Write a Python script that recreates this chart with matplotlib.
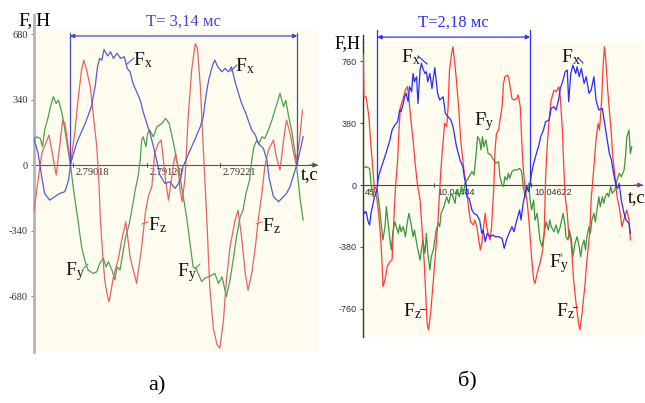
import matplotlib
matplotlib.use('Agg')
import matplotlib.pyplot as plt
from matplotlib.lines import Line2D
from matplotlib.transforms import offset_copy

plt.rcParams['font.family'] = ['Liberation Serif', 'DejaVu Serif']
plt.rcParams['mathtext.fontset'] = 'custom'
plt.rcParams['mathtext.rm'] = 'Liberation Serif'
plt.rcParams['mathtext.it'] = 'Liberation Serif:italic'

# ---------------- data: panel a (time in ms from start of period T) ----------------
t_fx_a = [-0.50, -0.44, -0.39, -0.35, -0.28, -0.21, -0.14, -0.07, -0.02, 0.01,
          0.05, 0.09, 0.14, 0.21, 0.27, 0.30, 0.35, 0.38, 0.41, 0.44,
          0.47, 0.52, 0.56, 0.60, 0.65, 0.70, 0.75, 0.79, 0.83, 0.87,
          0.92, 0.97, 1.01, 1.06, 1.10, 1.15, 1.20, 1.24, 1.31, 1.38,
          1.45, 1.50, 1.53, 1.56, 1.59, 1.63, 1.68, 1.73, 1.80, 1.84,
          1.86, 1.89, 1.92, 1.97, 2.00, 2.04, 2.10, 2.14, 2.19, 2.23,
          2.28, 2.32, 2.37, 2.42, 2.46, 2.51, 2.56, 2.60, 2.67, 2.72,
          2.75, 2.81, 2.88, 2.95, 2.99, 3.04, 3.08, 3.13, 3.18, 3.22]
fx_a = [139, 61, -61, -147, -182, -164, -147, -138, -78, 9,
        61, 112, 156, 216, 277, 311, 415, 510, 554, 545,
        600, 566, 588, 554, 580, 554, 562, 502, 484, 424,
        381, 337, 277, 216, 173, 100, 20, -50, -95, -87,
        -121, -95, -69, -9, 17, 52, 95, 138, 199, 251,
        311, 389, 450, 519, 545, 510, 484, 502, 484, 510,
        432, 381, 320, 277, 234, 182, 156, 112, 87, 26,
        -69, -164, -190, -164, -147, -112, -61, 0, 78, 147]

t_fz_a = [-0.50, -0.44, -0.39, -0.29, -0.19, -0.10, -0.07, 0.01, 0.07, 0.11,
          0.16, 0.19, 0.23, 0.28, 0.32, 0.37, 0.40, 0.42, 0.45, 0.48,
          0.52, 0.54, 0.60, 0.67, 0.71, 0.77, 0.83, 0.92, 0.99, 1.04,
          1.08, 1.13, 1.17, 1.22, 1.26, 1.29, 1.32, 1.36, 1.40, 1.43,
          1.46, 1.49, 1.52, 1.55, 1.59, 1.63, 1.68, 1.73, 1.76, 1.80,
          1.84, 1.89, 1.93, 1.98, 2.03, 2.07, 2.12, 2.16, 2.21, 2.28,
          2.32, 2.37, 2.42, 2.46, 2.51, 2.56, 2.60, 2.65, 2.69, 2.74,
          2.81, 2.85, 2.90, 2.95, 2.99, 3.04, 3.08, 3.12, 3.17, 3.21]
fz_a = [-242, -78, 61, 156, -52, 234, 216, 9, 182, 337,
        493, 545, 493, 407, 268, 95, -95, -285, -458, -597,
        -683, -709, -580, -483, -398, -294, -476, -614, -424, -251,
        -164, -112, 61, 112, 130, 26, -78, -182, -78, 9,
        61, -9, -130, -190, -61, 234, 493, 630, 606, 407,
        95, -285, -632, -850, -930, -950, -804, -597, -424, -285,
        -234, -372, -562, -649, -562, -424, -285, -147, -9, 78,
        130, 43, -26, 130, 234, 164, 78, 9, 130, 285]

t_fy_a = [-0.50, -0.46, -0.41, -0.38, -0.35, -0.30, -0.27, -0.23, -0.19, -0.16,
          -0.11, -0.07, -0.02, 0.01, 0.05, 0.11, 0.16, 0.21, 0.25, 0.32,
          0.37, 0.41, 0.46, 0.50, 0.53, 0.58, 0.62, 0.65, 0.69, 0.73,
          0.77, 0.82, 0.87, 0.90, 0.94, 0.97, 0.99, 1.01, 1.05, 1.07,
          1.10, 1.15, 1.20, 1.27, 1.32, 1.37, 1.40, 1.44, 1.47, 1.51,
          1.54, 1.58, 1.61, 1.64, 1.67, 1.70, 1.74, 1.77, 1.82, 1.86,
          1.91, 1.96, 2.00, 2.05, 2.10, 2.16, 2.21, 2.26, 2.30, 2.35,
          2.39, 2.43, 2.48, 2.51, 2.54, 2.58, 2.61, 2.65, 2.69, 2.74,
          2.79, 2.83, 2.86, 2.90, 2.95, 2.98, 3.02, 3.06, 3.11, 3.14,
          3.18, 3.22]
fy_a = [130, 147, 138, 95, 182, 251, 303, 355, 320, 337,
        268, 182, 61, -9, -130, -285, -424, -502, -545, -562,
        -554, -510, -484, -528, -502, -545, -597, -528, -545, -458,
        -372, -303, -199, -130, -61, 26, 130, 147, 95, 164,
        182, 147, 199, 216, 242, 216, 164, 95, 26, -26,
        -112, -199, -268, -355, -441, -528, -536, -562, -605, -588,
        -580, -571, -562, -614, -580, -683, -597, -476, -372, -268,
        -234, -147, -78, 26, 95, 130, 112, 147, 138, 182,
        234, 285, 320, 372, 303, 337, 251, 182, 61, -43,
        -182, -285]

# ---------------- data: panel b (time in ms from start of period T) ----------------
t_fx_b = [-0.20, -0.18, -0.16, -0.13, -0.11, -0.09, -0.06, -0.04, -0.01, 0.01,
          0.03, 0.06, 0.10, 0.13, 0.18, 0.21, 0.25, 0.29, 0.32, 0.34,
          0.37, 0.39, 0.41, 0.44, 0.46, 0.49, 0.51, 0.53, 0.56, 0.58,
          0.61, 0.63, 0.65, 0.68, 0.70, 0.72, 0.75, 0.78, 0.82, 0.86,
          0.89, 0.94, 0.97, 1.01, 1.05, 1.08, 1.13, 1.18, 1.22, 1.24,
          1.27, 1.28, 1.31, 1.35, 1.38, 1.42, 1.46, 1.49, 1.51, 1.54,
          1.57, 1.61, 1.65, 1.68, 1.73, 1.78, 1.81, 1.85, 1.88, 1.92,
          1.95, 1.99, 2.03, 2.05, 2.08, 2.11, 2.13, 2.16, 2.18, 2.20,
          2.23, 2.27, 2.30, 2.33, 2.37, 2.40, 2.45, 2.48, 2.52, 2.55,
          2.59, 2.61, 2.65, 2.68, 2.71, 2.73, 2.76, 2.79, 2.83, 2.85,
          2.88, 2.91, 2.95, 2.98, 3.02, 3.05, 3.09, 3.12, 3.16, 3.21,
          3.25, 3.28, 3.31, 3.34, 3.37, 3.41, 3.43, 3.45, 3.48, 3.52,
          3.55, 3.59, 3.61]
fx_b = [-153, -174, -163, -225, -245, -174, -112, -72, -41, 31,
        72, 112, 163, 204, 276, 337, 368, 388, 460, 450,
        500, 541, 562, 511, 603, 572, 684, 633, 664, 500,
        705, 746, 715, 684, 695, 633, 684, 592, 720, 562,
        521, 541, 439, 419, 398, 358, 235, 153, 112, 51,
        -10, -72, -82, -153, -174, -184, -215, -296, -276, -347,
        -296, -317, -306, -317, -317, -327, -388, -327, -296, -255,
        -286, -215, -153, -215, -112, -51, -10, -41, 10, 72,
        133, 194, 235, 296, 337, 388, 398, 470, 480, 460,
        531, 592, 644, 695, 705, 511, 684, 735, 684, 725,
        664, 715, 623, 664, 562, 582, 664, 521, 460, 470,
        358, 276, 194, 153, 72, -10, -20, 10, -92, -174,
        -215, -235, -296]

t_fz_b = [-0.20, -0.19, -0.16, -0.12, -0.09, -0.06, -0.04, -0.01, 0.02, 0.05,
          0.07, 0.08, 0.11, 0.14, 0.18, 0.21, 0.24, 0.26, 0.29, 0.31,
          0.33, 0.37, 0.40, 0.43, 0.45, 0.48, 0.51, 0.54, 0.57, 0.61,
          0.64, 0.67, 0.69, 0.71, 0.73, 0.76, 0.80, 0.83, 0.86, 0.89,
          0.91, 0.94, 0.96, 0.99, 1.01, 1.03, 1.06, 1.08, 1.12, 1.16,
          1.19, 1.23, 1.27, 1.30, 1.33, 1.37, 1.39, 1.42, 1.44, 1.47,
          1.49, 1.51, 1.54, 1.56, 1.58, 1.61, 1.63, 1.66, 1.68, 1.70,
          1.73, 1.75, 1.78, 1.80, 1.82, 1.86, 1.88, 1.92, 1.95, 1.99,
          2.01, 2.04, 2.06, 2.08, 2.11, 2.14, 2.17, 2.20, 2.23, 2.25,
          2.28, 2.32, 2.36, 2.38, 2.40, 2.42, 2.45, 2.48, 2.52, 2.55,
          2.59, 2.61, 2.64, 2.66, 2.68, 2.71, 2.73, 2.76, 2.78, 2.80,
          2.83, 2.87, 2.89, 2.92, 2.96, 2.99, 3.03, 3.05, 3.09, 3.12,
          3.15, 3.17, 3.20, 3.22, 3.24, 3.26, 3.29, 3.33, 3.36, 3.39,
          3.42, 3.45, 3.49, 3.53, 3.56, 3.59, 3.61]
fz_b = [800, 540, 541, 419, 235, 72, -31, -72, -174, -337,
        -501, -623, -582, -501, -470, -460, -174, -10, 153, 337,
        480, 531, 582, 603, 531, 398, 276, 133, 10, -92,
        -276, -480, -664, -848, -889, -787, -582, -419, -255, -31,
        112, 276, 378, 358, 480, 705, 807, 848, 684, 480,
        276, 112, -10, -133, -225, -245, -215, -255, -317, -398,
        -358, -276, -174, -255, -296, -337, -255, -31, 214, 317,
        337, 398, 480, 623, 664, 674, 644, 531, 521, 531,
        552, 480, 276, 112, -31, -112, -255, -439, -582, -603,
        -541, -480, -400, -300, 31, 214, 398, 521, 582, 572,
        603, 541, 337, 112, -72, -174, -296, -337, -439, -582,
        -705, -848, -889, -787, -623, -460, -296, -92, 112, 276,
        378, 337, 521, 725, 848, 766, 562, 358, 174, 51,
        -72, -133, -255, -194, -153, -215, -337]

t_fy_b = [-0.20, -0.16, -0.11, -0.09, -0.06, -0.04, 0.00, 0.03, 0.06, 0.08,
          0.11, 0.13, 0.15, 0.18, 0.20, 0.22, 0.25, 0.27, 0.30, 0.32,
          0.34, 0.37, 0.40, 0.43, 0.45, 0.48, 0.51, 0.53, 0.57, 0.61,
          0.63, 0.65, 0.68, 0.70, 0.72, 0.75, 0.77, 0.80, 0.82, 0.84,
          0.87, 0.89, 0.91, 0.95, 0.99, 1.02, 1.05, 1.08, 1.11, 1.13,
          1.17, 1.20, 1.23, 1.25, 1.28, 1.31, 1.35, 1.38, 1.41, 1.43,
          1.46, 1.48, 1.50, 1.52, 1.55, 1.58, 1.62, 1.66, 1.69, 1.73,
          1.75, 1.78, 1.80, 1.82, 1.85, 1.87, 1.89, 1.92, 1.95, 1.99,
          2.03, 2.06, 2.08, 2.11, 2.13, 2.16, 2.18, 2.20, 2.23, 2.25,
          2.28, 2.30, 2.32, 2.35, 2.38, 2.41, 2.44, 2.46, 2.48, 2.52,
          2.55, 2.58, 2.61, 2.65, 2.68, 2.69, 2.72, 2.74, 2.77, 2.79,
          2.82, 2.85, 2.88, 2.90, 2.92, 2.95, 2.97, 2.99, 3.02, 3.04,
          3.06, 3.09, 3.11, 3.14, 3.16, 3.18, 3.21, 3.23, 3.25, 3.28,
          3.30, 3.33, 3.35, 3.39, 3.42, 3.45, 3.48, 3.52, 3.54, 3.56,
          3.59, 3.61, 3.63]
fy_b = [102, 112, 102, 10, -72, -10, -31, -133, -255, -337,
        -255, -133, -215, -337, -398, -296, -225, -255, -296, -245,
        -286, -255, -317, -225, -174, -235, -317, -276, -378, -460,
        -398, -337, -419, -296, -419, -521, -439, -398, -337, -276,
        -235, -255, -174, -133, -72, -112, -51, -72, -112, -31,
        -72, -10, -51, 10, 31, 51, 82, 61, 194, 296,
        276, 214, 296, 235, 276, 194, 184, 153, 133, 143,
        51, 0, -10, 51, 31, 72, 41, 82, 92, 92,
        102, 82, -10, -72, -31, 10, -92, -153, -92, -215,
        -174, -255, -337, -378, -296, -225, -276, -215, -255, -286,
        -245, -296, -255, -174, -255, -317, -337, -276, -337, -439,
        -357, -317, -378, -439, -378, -337, -398, -317, -255, -296,
        -215, -174, -225, -133, -72, -133, -72, -112, -72, -51,
        -72, -10, -51, -31, 31, 72, 51, 92, 174, 296,
        337, 194, 235]

# axis ticks / labels
yticks_a = [680, 340, 0, -340, -680]
yticks_b = [760, 380, 0, -380, -760]
t0_a = 2.79014          # s, start of period T in panel a
t0_b = 10.04403         # s, start of period T in panel b
xtick_labels_a = ['2.79018', '2.79120', '2.79221']
xtick_labels_b = ['10.04484', '10.04622']
xtick_cut_b = '45'      # visible tail of the first (cut off) label in panel b
period_a = 3.14         # ms
period_b = 2.18         # ms

# ---------------- figure ----------------
W, H = 645, 403
fig = plt.figure(figsize=(W / 100, H / 100), dpi=100)
fig.patch.set_facecolor('white')


def fxp(px):
    return px / W


def fyp(py):
    return 1 - py / H


BEIGE = '#fdfcee'

ax_a = fig.add_axes([fxp(34), fyp(352), (318 - 34) / W, (352 - 30) / H])
ax_b = fig.add_axes([fxp(363), fyp(337), (643 - 363) / W, (337 - 42) / H])

ax_a.set_xlim(-0.497, 3.425)
ax_a.set_ylim(-970, 701)
ax_b.set_xlim(-0.204, 3.79)
ax_b.set_ylim(-932, 877)

for ax in (ax_a, ax_b):
    ax.set_facecolor(BEIGE)
    for s in ('top', 'right', 'bottom'):
        ax.spines[s].set_visible(False)
    ax.set_xticks([])

# spines / y ticks
ax_a.spines['left'].set_color('#b4b4b4')
ax_a.spines['left'].set_linewidth(2.0)
ax_a.add_line(Line2D([0, 0], [1, 1 + 15 / 322], transform=ax_a.transAxes,
                     color='#b4b4b4', lw=2.0, clip_on=False))
ax_a.set_yticks(yticks_a)
ax_a.set_yticklabels([str(v) for v in yticks_a])
ax_a.tick_params(axis='y', length=2.5, width=0.8, color='#888888', pad=2,
                 labelsize=7.5, labelcolor='#333333')

ax_b.spines['left'].set_color('#333333')
ax_b.spines['left'].set_linewidth(1.0)
ax_b.add_line(Line2D([0, 0], [1, 1 + 7 / 295], transform=ax_b.transAxes,
                     color='#333333', lw=1.0, clip_on=False))
ax_b.set_yticks(yticks_b)
ax_b.set_yticklabels([str(v) for v in yticks_b])
ax_b.tick_params(axis='y', length=2.5, width=0.8, color='#555555', pad=2,
                 labelsize=6.5, labelcolor='#333333')
for lbl in ax_b.get_yticklabels():
    lbl.set_fontfamily('Liberation Sans')

# x axes (horizontal line through zero with arrow)
for ax, col, acol in ((ax_a, '#555555', '#555555'), (ax_b, '#444444', '#8a3a9a')):
    x0, x1 = ax.get_xlim()
    ax.plot([x0, x1], [0, 0], color=col, lw=0.8, zorder=2)
    ax.annotate('', xy=(x1, 0), xytext=(x1 - 0.12, 0),
                arrowprops=dict(arrowstyle='-|>', color=acol, lw=0.8,
                                mutation_scale=7, shrinkA=0, shrinkB=0),
                annotation_clip=False, zorder=3)

# x tick labels
for ax, labels, t0, fs, fam in ((ax_a, xtick_labels_a, t0_a, 7.5, 'Liberation Serif'),
                                 (ax_b, xtick_labels_b, t0_b, 6.5, 'Liberation Sans')):
    tr = offset_copy(ax.transData, fig=fig, x=3, y=-3, units='dots')
    for s in labels:
        tms = (float(s) - t0) * 1000.0
        ax.plot([tms, tms], [0, 0], marker='|', ms=3, color='#555555', mew=0.7)
        ax.text(tms, 0, s, transform=tr, ha='left', va='top', fontsize=fs,
                family=fam, color='#333333')
tr_cut = offset_copy(ax_b.transAxes, fig=fig, x=2, y=0, units='dots')
ax_b.text(0, 0, xtick_cut_b, transform=offset_copy(ax_b.get_yaxis_transform(), fig=fig,
                                                   x=2, y=-3, units='dots'),
          ha='left', va='top', fontsize=6.5, family='Liberation Sans', color='#333333')

# curves
col_a = {'x': '#5a5ad2', 'y': '#4f9f4f', 'z': '#e36464'}
col_b = {'x': '#2a2aff', 'y': '#3a963a', 'z': '#ff3c3c'}
lw = 0.9
ax_a.plot(t_fy_a, fy_a, color=col_a['y'], lw=lw, zorder=4)
ax_a.plot(t_fz_a, fz_a, color=col_a['z'], lw=lw, zorder=5)
ax_a.plot(t_fx_a, fx_a, color=col_a['x'], lw=lw, zorder=6)
ax_b.plot(t_fy_b, fy_b, color=col_b['y'], lw=lw, zorder=4)
ax_b.plot(t_fz_b, fz_b, color=col_b['z'], lw=lw, zorder=5)
ax_b.plot(t_fx_b, fx_b, color=col_b['x'], lw=lw, zorder=6)

# period markers
TB_a = '#4646c8'
TB_b = '#2e2eff'
for ax, per, ytop, yarr, ytxt, tcol, txt in (
        (ax_a, period_a, 685, 670, 742, TB_a, 'T= 3,14 мс'),
        (ax_b, period_b, 950, 907, 993, TB_b, 'T=2,18 мс')):
    ax.plot([0, 0], [0, ytop], color=tcol, lw=0.9, clip_on=False, zorder=7)
    ax.plot([per, per], [0, ytop], color=tcol, lw=0.9, clip_on=False, zorder=7)
    ax.annotate('', xy=(0, yarr), xytext=(per, yarr),
                arrowprops=dict(arrowstyle='<|-|>', color=tcol, lw=0.9,
                                mutation_scale=6, shrinkA=0, shrinkB=0),
                annotation_clip=False, zorder=7)
    ax.text(per / 2, ytxt, txt, ha='center', va='center', color=tcol,
            fontsize=12, clip_on=False)

# axis names
fig.text(fxp(32.5), fyp(21), 'F,', ha='right', va='center', fontsize=14)
fig.text(fxp(35.5), fyp(21), 'H', ha='left', va='center', fontsize=14)
fig.text(fxp(361), fyp(44), 'F,H', ha='right', va='center', fontsize=13)
fig.text(fxp(310), fyp(175), 't,c', ha='center', va='center', fontsize=13)
fig.text(fxp(637), fyp(198), 't,c', ha='center', va='center', fontsize=13)

# curve labels with leader strokes
labels = [
    # text, cx, cy, colour of leader, leader (x1, y1, x2, y2)
    (r'$\mathrm{F_x}$', 143, 60, col_a['x'], (127, 64, 134, 58)),
    (r'$\mathrm{F_x}$', 245, 66, col_a['x'], (231, 71, 237, 65)),
    (r'$\mathrm{F_z}$', 157, 225, col_a['z'], (142, 224, 148, 222)),
    (r'$\mathrm{F_z}$', 271, 226, col_a['z'], (256, 224, 262, 222)),
    (r'$\mathrm{F_y}$', 75, 272, col_a['y'], (83, 269, 88, 264)),
    (r'$\mathrm{F_y}$', 187, 273, col_a['y'], (195, 269, 200, 264)),
    (r'$\mathrm{F_x}$', 411, 57, col_b['x'], (418, 56, 427, 64)),
    (r'$\mathrm{F_x}$', 571, 57, col_b['x'], (578, 58, 583, 63)),
    (r'$\mathrm{F_y}$', 484, 122, col_b['x'], (485, 113, 486, 117)),
    (r'$\mathrm{F_y}$', 559, 264, col_b['y'], (561, 254, 562, 256)),
    (r'$\mathrm{F_z}$', 412, 311, col_b['x'], (420, 309, 425, 309)),
    (r'$\mathrm{F_z}$', 565, 311, col_b['x'], (573, 307, 577, 307)),
]
for txt, cx, cy, lc, (x1, y1, x2, y2) in labels:
    fig.text(fxp(cx), fyp(cy), txt, ha='center', va='center', fontsize=14,
             color='#111111')
    fig.add_artist(Line2D([fxp(x1), fxp(x2)], [fyp(y1), fyp(y2)],
                          transform=fig.transFigure, color=lc, lw=0.8))

# panel captions
fig.text(fxp(157), fyp(386), 'а)', ha='center', va='center', fontsize=16)
fig.text(fxp(467), fyp(381), 'б)', ha='center', va='center', fontsize=16)

fig.savefig('out.png', dpi=100, facecolor='white')
